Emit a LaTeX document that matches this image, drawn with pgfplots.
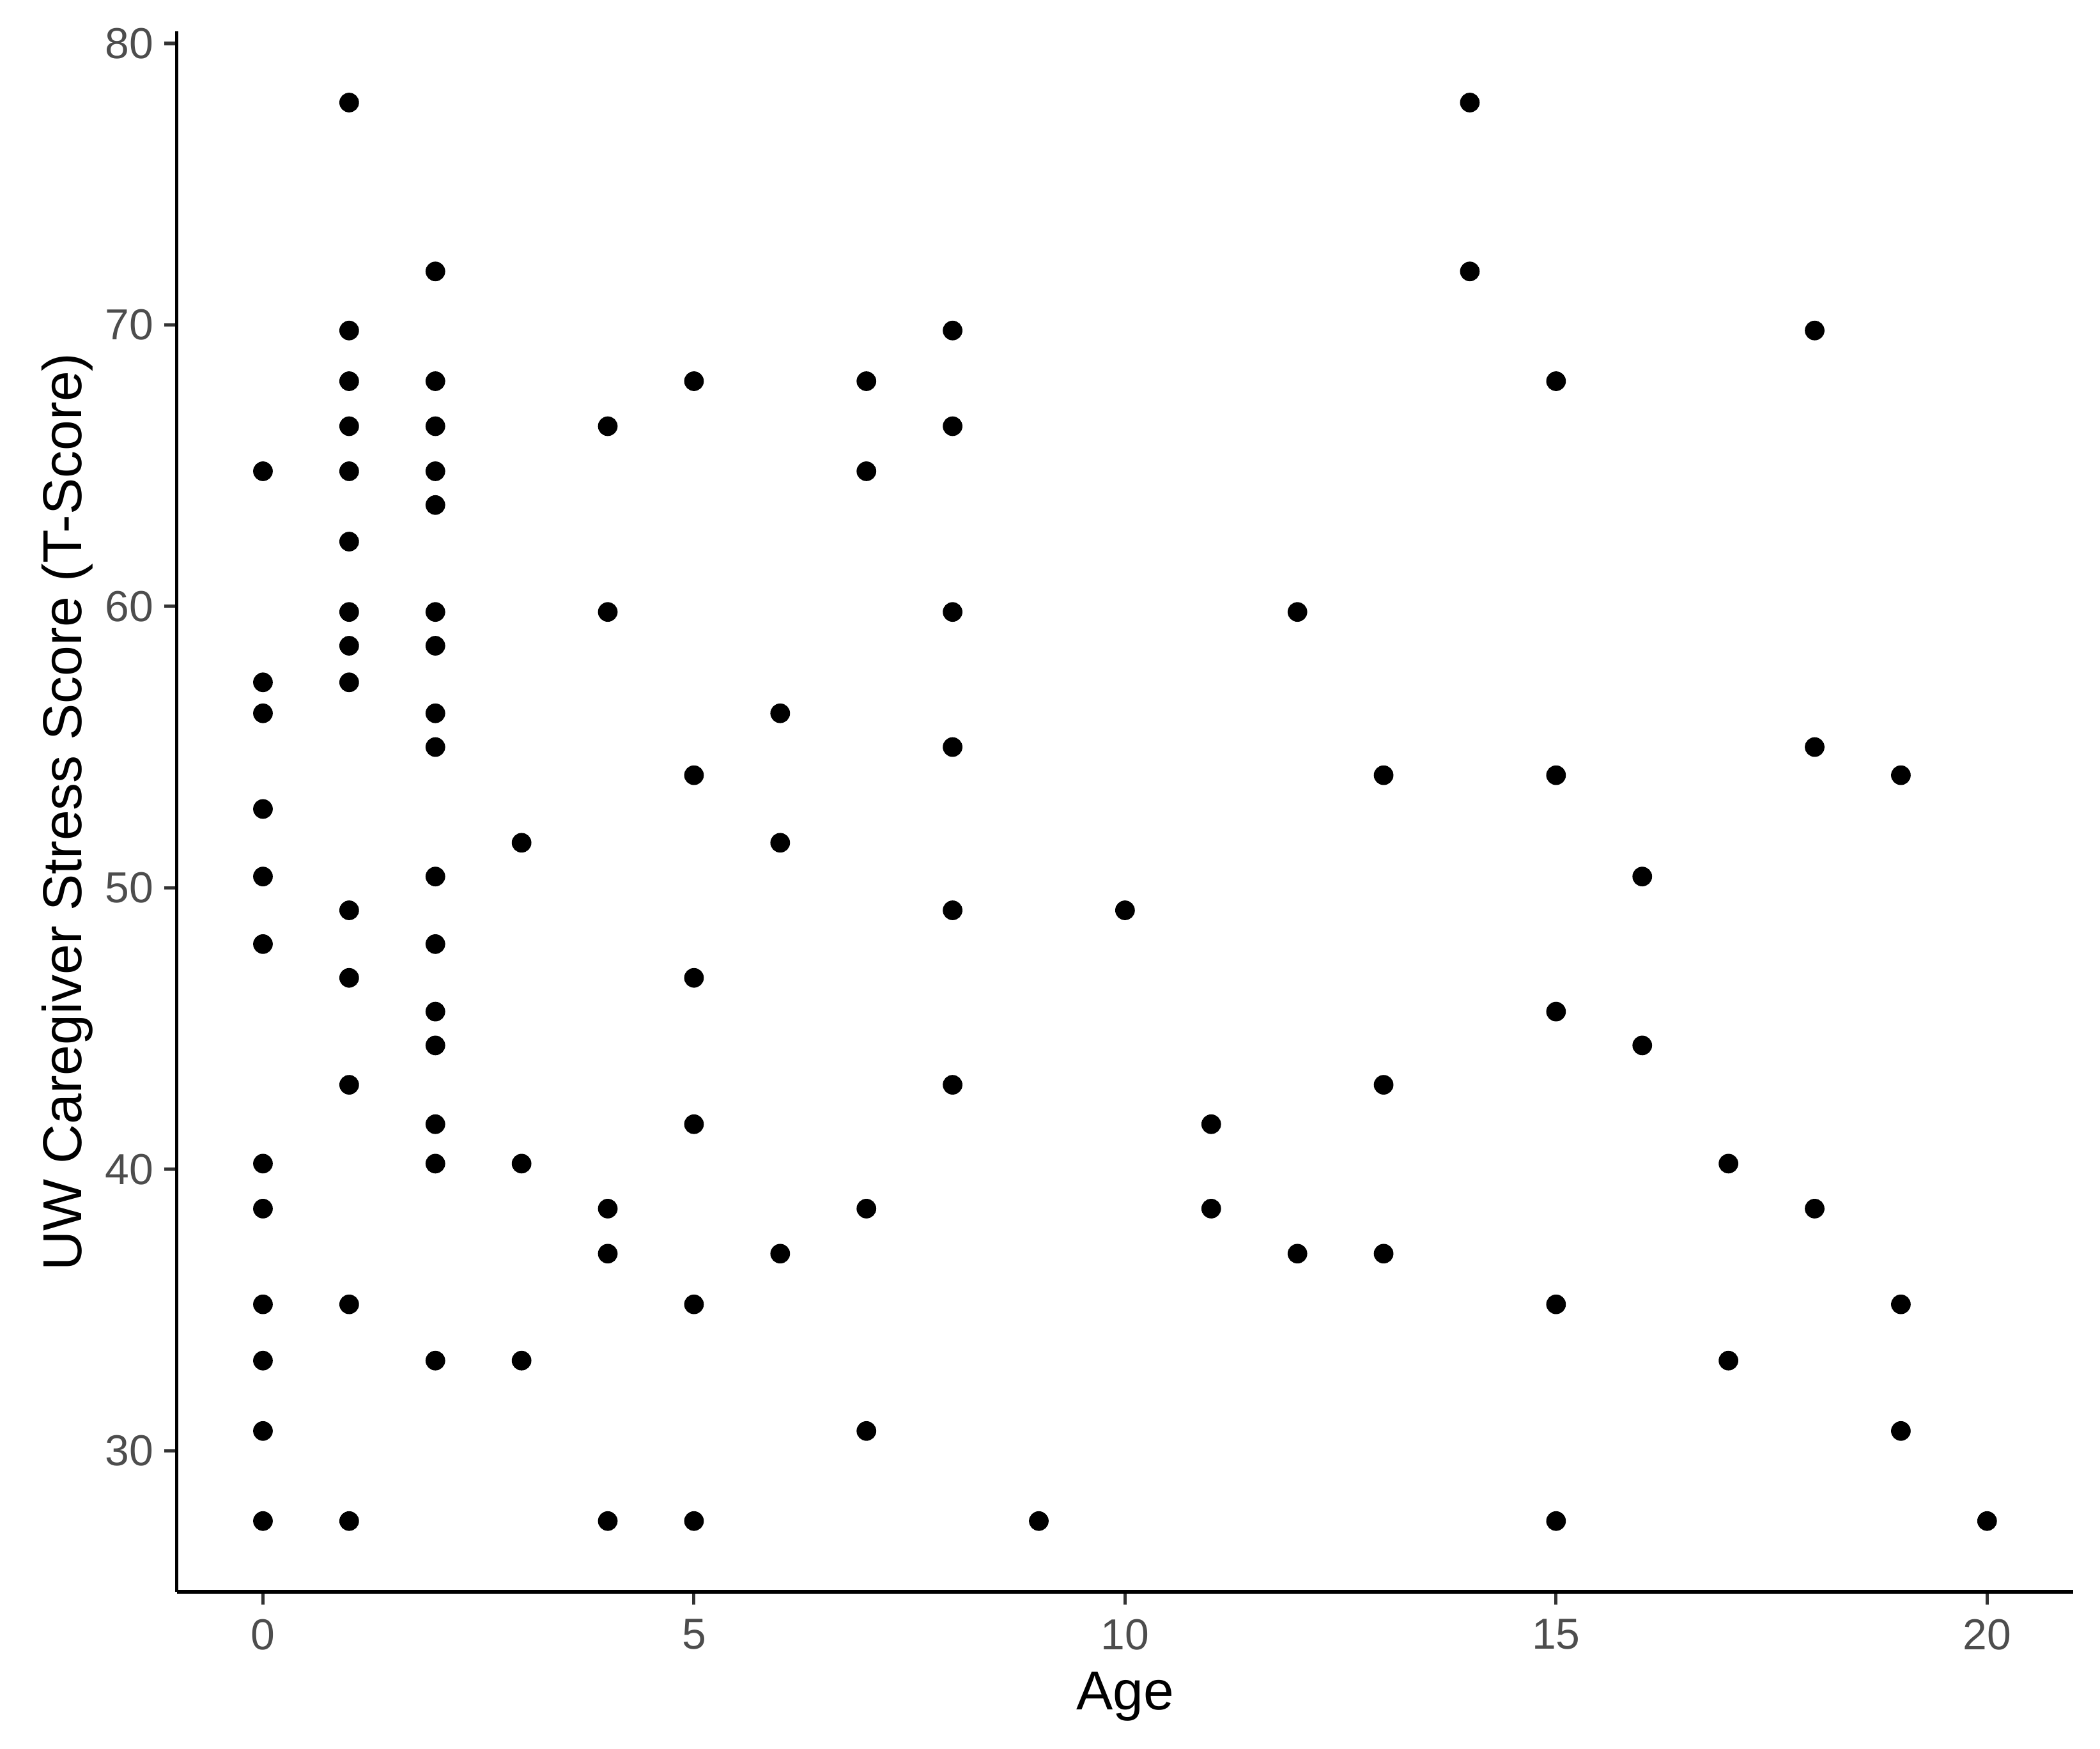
\documentclass[border=0pt]{standalone}
\usepackage{fontspec}
\setmainfont{Liberation Sans}
\usepackage{pgfplots}
\pgfplotsset{compat=1.18}
\definecolor{ticktext}{HTML}{4D4D4D}
\definecolor{tickline}{HTML}{333333}

\pgfplotstableread{
age score
0 64.8
0 57.3
0 56.2
0 52.8
0 50.4
0 48.0
0 40.2
0 38.6
0 35.2
0 33.2
0 30.7
0 27.5
1 77.9
1 69.8
1 68.0
1 66.4
1 64.8
1 62.3
1 59.8
1 58.6
1 57.3
1 49.2
1 46.8
1 43.0
1 35.2
1 27.5
2 71.9
2 68.0
2 66.4
2 64.8
2 63.6
2 59.8
2 58.6
2 56.2
2 55.0
2 50.4
2 48.0
2 45.6
2 44.4
2 41.6
2 40.2
2 33.2
3 51.6
3 40.2
3 33.2
4 66.4
4 59.8
4 38.6
4 37.0
4 27.5
5 68.0
5 54.0
5 46.8
5 41.6
5 35.2
5 27.5
6 56.2
6 51.6
6 37.0
7 68.0
7 64.8
7 38.6
7 30.7
8 69.8
8 66.4
8 59.8
8 55.0
8 49.2
8 43.0
9 27.5
10 49.2
11 41.6
11 38.6
12 59.8
12 37.0
13 54.0
13 43.0
13 37.0
14 77.9
14 71.9
15 68.0
15 54.0
15 45.6
15 35.2
15 27.5
16 50.4
16 44.4
17 40.2
17 33.2
18 69.8
18 55.0
18 38.6
19 54.0
19 35.2
19 30.7
20 27.5
}\stressdata

\begin{document}
\begin{tikzpicture}
\begin{axis}[
    scale only axis,
    width=463.3pt,
    height=381.2pt,
    xmin=-1, xmax=21,
    ymin=24.98, ymax=80.42,
    axis lines*=left,
    axis line style={-, line width=0.9pt, black},
    xtick={0,5,10,15,20},
    ytick={30,40,50,60,70,80},
    tick align=outside,
    major tick length=3.1pt,
    tick style={tickline, line width=0.8pt},
    minor tick num=0,
    /pgf/number format/assume math mode=true,
    tick label style={font=\fontsize{10.6}{12}\selectfont, text=ticktext},
    xticklabel style={yshift=0pt},
    yticklabel style={xshift=1.0pt},
    xlabel={Age},
    ylabel={UW Caregiver Stress Score (T-Score)},
    every axis x label/.style={at={(axis description cs:0.5,-0.0756)}, anchor=base,
        font=\fontsize{13.4}{15}\selectfont, text=black},
    every axis y label/.style={at={(axis description cs:-0.0501,0.5)}, rotate=90, anchor=base,
        font=\fontsize{13.4}{15}\selectfont, text=black},
    clip=false,
]
\addplot[only marks, mark=*, mark size=2.2pt, black] table[x=age, y=score] {\stressdata};
\path (axis description cs:-0.0932,-0.1004) rectangle (axis description cs:1.0141,1.0203);
\end{axis}
\end{tikzpicture}
\end{document}
